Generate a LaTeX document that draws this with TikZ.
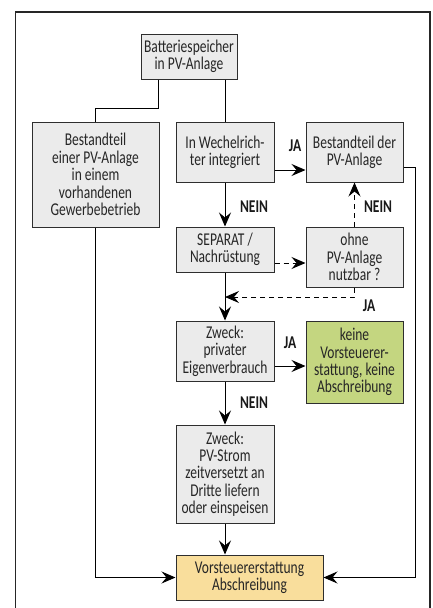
\documentclass[tikz,border=0pt]{standalone}
\usepackage{fontspec}
\setmainfont{Carlito}[FakeStretch=0.75]
\usetikzlibrary{arrows.meta}
\definecolor{boxgray}{HTML}{EBEBEB}
\definecolor{boxgreen}{HTML}{C4D680}
\definecolor{boxyellow}{HTML}{F9DE9C}
\definecolor{edge}{HTML}{2E2E2E}
\begin{document}
\begin{tikzpicture}[x=1pt,y=-1pt,
  box/.style={draw=edge, line width=1pt, fill=boxgray, align=center, inner sep=2pt,
    font=\fontsize{18}{17.4}\selectfont, text=black!85},
  lbl/.style={font=\bfseries\fontsize{18}{17}\selectfont, text=black!90},
  conn/.style={line width=1pt, draw=black},
  arr/.style={conn, -{Stealth[length=14pt,width=12pt,inset=5pt]}},
  dasharr/.style={arr, dash pattern=on 5pt off 4pt}]
\useasboundingbox (0,0) rectangle (432,608);
\draw[line width=1.2pt, draw=black!85] (15.5,640) -- (15.5,12) -- (430,12) -- (430,640);

\node[box, minimum width=96, minimum height=45] (batt) at (189,56.5) {Batteriespeicher\\in PV-Anlage};
\node[box, minimum width=127, minimum height=105] (left) at (95.5,174.5) {Bestandteil\\einer PV-Anlage\\in einem\\vorhandenen\\Gewerbebetrieb};
\node[box, minimum width=98, minimum height=60] (wech) at (225,152) {In Wechelrich-\\ter integriert};
\node[box, minimum width=97, minimum height=60] (bestd) at (354.5,152) {Bestandteil der\\PV-Anlage};
\node[box, minimum width=98, minimum height=45] (sep) at (225,249.5) {SEPARAT /\\Nachrüstung};
\node[box, minimum width=97, minimum height=60] (ohne) at (354.5,257) {ohne\\PV-Anlage\\nutzbar ?};
\node[box, minimum width=98, minimum height=60] (priv) at (225,351) {Zweck:\\privater\\Eigenverbrauch};
\node[box, fill=boxgreen, minimum width=97, minimum height=82] (keine) at (354.5,362) {keine\\Vorsteuerer-\\stattung, keine\\Abschreibung};
\node[box, minimum width=98, minimum height=98] (strom) at (225,474) {Zweck:\\PV-Strom\\zeitversetzt an\\Dritte liefern\\oder einspeisen};
\node[box, fill=boxyellow, minimum width=147, minimum height=45] (vorst) at (249.5,577.5) {Vorsteuererstattung\\Abschreibung};

\coordinate (j) at (225,297);

\draw[conn] ([xshift=-31pt]batt.south) -- ++(0,29) -| (left.north);
\draw[conn] (batt.south -| wech.north) -- (wech.north);
\draw[arr] ([yshift=-18pt]wech.east) -- ([yshift=-18pt]wech.east -| bestd.west);
\draw[arr] (wech.south) -- (sep.north);
\draw[dasharr] ([yshift=-13.5pt]sep.east) -- ([yshift=-13.5pt]sep.east -| ohne.west);
\draw[dasharr] (ohne.north) -- (bestd.south);
\draw[dasharr] (ohne.south) |- (j);
\draw[arr] (sep.south) -- (priv.north);
\draw[arr] ([yshift=-15pt]priv.east) -- ([yshift=-15pt]priv.east -| keine.west);
\draw[arr] (priv.south) -- (strom.north);
\draw[arr] (strom.south) -- (strom.south |- vorst.north);
\draw[arr] (left.south) |- (vorst.west);
\draw[arr] ([yshift=-15pt]bestd.east) -- ++(12,0) |- (vorst.east);

\node[lbl] (l1) at (295,146) {JA};
\node[lbl] (l2) at (254,207) {NEIN};
\node[lbl] (l3) at (378,207) {NEIN};
\node[lbl] (l4) at (369,306) {JA};
\node[lbl] (l5) at (290,343) {JA};
\node[lbl] (l6) at (254,403) {NEIN};
\end{tikzpicture}
\end{document}
